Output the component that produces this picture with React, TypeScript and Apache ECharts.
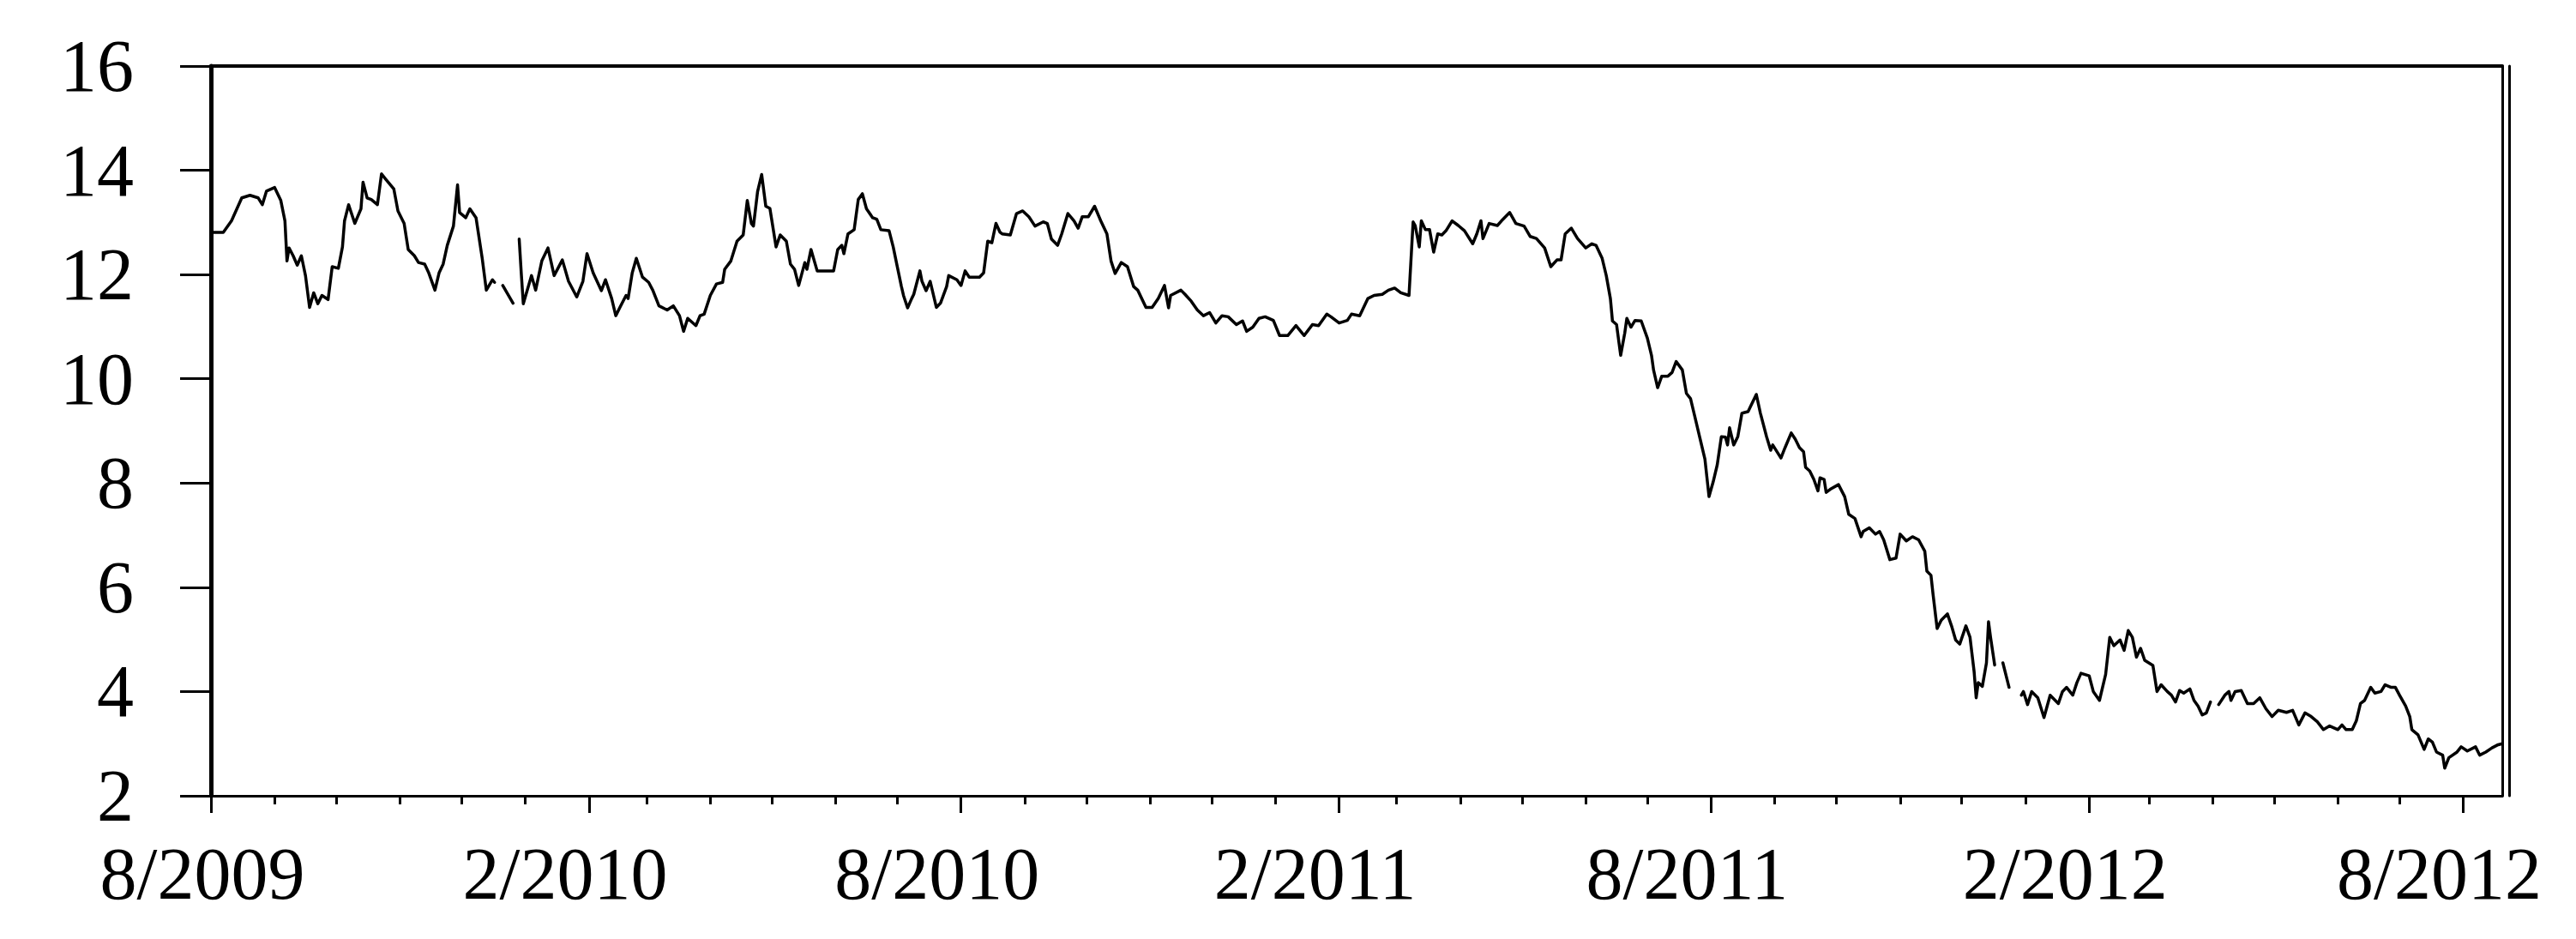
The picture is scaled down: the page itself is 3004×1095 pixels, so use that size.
import React, { useEffect, useRef } from "react";
import * as echarts from "echarts";

// ---- data: [date, value] ----
const data2009: [string, number | null][] = [
  ["2009-08-01", 12.81], ["2009-08-07", 12.81], ["2009-08-11", 13.03], ["2009-08-16", 13.47], ["2009-08-20", 13.52], ["2009-08-24", 13.47], ["2009-08-26", 13.34], ["2009-08-28", 13.6],
  ["2009-09-01", 13.67], ["2009-09-04", 13.42], ["2009-09-06", 13.03], ["2009-09-07", 12.26], ["2009-09-08", 12.51], ["2009-09-10", 12.36], ["2009-09-12", 12.18], ["2009-09-14", 12.36], ["2009-09-16", 11.98], ["2009-09-18", 11.37], ["2009-09-20", 11.65], ["2009-09-22", 11.44], ["2009-09-24", 11.6], ["2009-09-27", 11.52], ["2009-09-29", 12.15],
  ["2009-10-02", 12.12], ["2009-10-04", 12.53], ["2009-10-05", 13.03], ["2009-10-07", 13.34], ["2009-10-10", 12.98], ["2009-10-13", 13.26], ["2009-10-14", 13.77], ["2009-10-16", 13.47], ["2009-10-18", 13.44], ["2009-10-21", 13.34], ["2009-10-23", 13.93], ["2009-10-25", 13.83], ["2009-10-29", 13.64], ["2009-10-31", 13.22],
  ["2009-11-03", 12.98], ["2009-11-05", 12.48], ["2009-11-08", 12.36], ["2009-11-10", 12.23], ["2009-11-13", 12.2], ["2009-11-15", 12.03], ["2009-11-18", 11.7], ["2009-11-20", 12.03], ["2009-11-22", 12.2], ["2009-11-24", 12.56], ["2009-11-27", 12.93], ["2009-11-29", 13.72], ["2009-11-30", 13.19],
  ["2009-12-03", 13.09], ["2009-12-05", 13.26], ["2009-12-08", 13.09], ["2009-12-11", 12.31], ["2009-12-13", 11.7], ["2009-12-16", 11.9], ["2009-12-17", 11.85], ["2009-12-19", null], ["2009-12-21", 11.79], ["2009-12-26", 11.45], ["2009-12-28", null], ["2009-12-29", 12.68], ["2009-12-30", 12.03], ["2009-12-31", 11.44],
];

const data2010: [string, number | null][] = [
  ["2010-01-04", 11.98], ["2010-01-06", 11.7], ["2010-01-09", 12.26], ["2010-01-12", 12.51], ["2010-01-15", 11.98], ["2010-01-19", 12.28], ["2010-01-22", 11.87], ["2010-01-26", 11.57], ["2010-01-29", 11.87], ["2010-01-31", 12.4],
  ["2010-02-03", 12.03], ["2010-02-07", 11.69], ["2010-02-09", 11.9], ["2010-02-12", 11.54], ["2010-02-14", 11.21], ["2010-02-16", 11.37], ["2010-02-19", 11.6], ["2010-02-20", 11.54], ["2010-02-22", 12.03], ["2010-02-24", 12.31], ["2010-02-27", 11.95],
  ["2010-03-02", 11.85], ["2010-03-04", 11.7], ["2010-03-07", 11.4], ["2010-03-11", 11.32], ["2010-03-14", 11.4], ["2010-03-17", 11.21], ["2010-03-19", 10.91], ["2010-03-21", 11.16], ["2010-03-25", 11.02], ["2010-03-27", 11.21], ["2010-03-29", 11.24],
  ["2010-04-01", 11.6], ["2010-04-04", 11.82], ["2010-04-07", 11.85], ["2010-04-08", 12.1], ["2010-04-11", 12.26], ["2010-04-14", 12.64], ["2010-04-17", 12.76], ["2010-04-19", 13.42], ["2010-04-21", 12.98], ["2010-04-22", 12.93], ["2010-04-24", 13.59], ["2010-04-26", 13.92], ["2010-04-28", 13.31], ["2010-04-30", 13.27],
  ["2010-05-03", 12.53], ["2010-05-05", 12.76], ["2010-05-08", 12.64], ["2010-05-10", 12.2], ["2010-05-12", 12.1], ["2010-05-14", 11.79], ["2010-05-17", 12.23], ["2010-05-18", 12.1], ["2010-05-20", 12.48], ["2010-05-23", 12.07], ["2010-05-27", 12.07], ["2010-05-31", 12.07],
  ["2010-06-02", 12.48], ["2010-06-04", 12.56], ["2010-06-05", 12.4], ["2010-06-07", 12.78], ["2010-06-10", 12.86], ["2010-06-12", 13.44], ["2010-06-14", 13.55], ["2010-06-16", 13.26], ["2010-06-19", 13.09], ["2010-06-21", 13.06], ["2010-06-23", 12.86], ["2010-06-27", 12.84], ["2010-06-29", 12.53],
  ["2010-07-01", 12.15], ["2010-07-03", 11.77], ["2010-07-04", 11.6], ["2010-07-06", 11.36], ["2010-07-08", 11.54], ["2010-07-09", 11.62], ["2010-07-12", 12.07], ["2010-07-13", 11.87], ["2010-07-15", 11.69], ["2010-07-17", 11.87], ["2010-07-20", 11.37], ["2010-07-22", 11.45], ["2010-07-25", 11.77], ["2010-07-26", 11.98], ["2010-07-30", 11.9],
  ["2010-08-01", 11.79], ["2010-08-03", 12.07], ["2010-08-05", 11.95], ["2010-08-10", 11.95], ["2010-08-12", 12.03], ["2010-08-14", 12.64], ["2010-08-16", 12.61], ["2010-08-18", 12.98], ["2010-08-20", 12.81], ["2010-08-21", 12.78], ["2010-08-25", 12.76], ["2010-08-28", 13.17], ["2010-08-31", 13.22],
  ["2010-09-03", 13.11], ["2010-09-06", 12.93], ["2010-09-10", 13.01], ["2010-09-12", 12.98], ["2010-09-14", 12.68], ["2010-09-17", 12.56], ["2010-09-19", 12.78], ["2010-09-22", 13.17], ["2010-09-25", 13.03], ["2010-09-27", 12.89], ["2010-09-29", 13.11],
  ["2010-10-02", 13.11], ["2010-10-05", 13.31], ["2010-10-08", 13.03], ["2010-10-11", 12.78], ["2010-10-13", 12.26], ["2010-10-15", 12.02], ["2010-10-18", 12.23], ["2010-10-21", 12.15], ["2010-10-24", 11.77], ["2010-10-26", 11.7], ["2010-10-30", 11.37],
  ["2010-11-02", 11.37], ["2010-11-05", 11.54], ["2010-11-08", 11.79], ["2010-11-10", 11.36], ["2010-11-11", 11.6], ["2010-11-16", 11.7], ["2010-11-18", 11.62], ["2010-11-21", 11.49], ["2010-11-24", 11.32], ["2010-11-27", 11.21], ["2010-11-30", 11.27],
  ["2010-12-03", 11.07], ["2010-12-06", 11.21], ["2010-12-09", 11.19], ["2010-12-13", 11.04], ["2010-12-16", 11.11], ["2010-12-18", 10.91], ["2010-12-21", 10.99], ["2010-12-24", 11.16], ["2010-12-27", 11.19], ["2010-12-31", 11.12],
];

const data2011: [string, number | null][] = [
  ["2011-01-03", 10.83], ["2011-01-07", 10.83], ["2011-01-11", 11.02], ["2011-01-15", 10.83], ["2011-01-19", 11.04], ["2011-01-22", 11.02], ["2011-01-26", 11.24], ["2011-01-28", 11.19],
  ["2011-02-01", 11.07], ["2011-02-05", 11.12], ["2011-02-07", 11.24], ["2011-02-11", 11.21], ["2011-02-15", 11.54], ["2011-02-18", 11.6], ["2011-02-22", 11.62], ["2011-02-25", 11.7], ["2011-02-28", 11.74],
  ["2011-03-03", 11.65], ["2011-03-07", 11.6], ["2011-03-09", 13.01], ["2011-03-10", 12.94], ["2011-03-12", 12.53], ["2011-03-13", 13.03], ["2011-03-15", 12.86], ["2011-03-17", 12.86], ["2011-03-19", 12.43], ["2011-03-21", 12.78], ["2011-03-23", 12.76], ["2011-03-25", 12.84], ["2011-03-28", 13.03], ["2011-03-31", 12.94],
  ["2011-04-03", 12.84], ["2011-04-07", 12.59], ["2011-04-09", 12.78], ["2011-04-11", 13.03], ["2011-04-12", 12.69], ["2011-04-15", 12.98], ["2011-04-19", 12.94], ["2011-04-21", 13.03], ["2011-04-25", 13.19], ["2011-04-28", 12.98],
  ["2011-05-02", 12.93], ["2011-05-05", 12.73], ["2011-05-08", 12.69], ["2011-05-12", 12.51], ["2011-05-15", 12.15], ["2011-05-18", 12.28], ["2011-05-20", 12.28], ["2011-05-22", 12.78], ["2011-05-25", 12.89], ["2011-05-28", 12.69],
  ["2011-06-01", 12.51], ["2011-06-04", 12.59], ["2011-06-06", 12.56], ["2011-06-09", 12.31], ["2011-06-11", 11.98], ["2011-06-13", 11.54], ["2011-06-14", 11.11], ["2011-06-16", 11.04], ["2011-06-18", 10.45], ["2011-06-20", 10.88], ["2011-06-21", 11.16], ["2011-06-23", 10.99], ["2011-06-25", 11.12], ["2011-06-28", 11.11],
  ["2011-07-01", 10.78], ["2011-07-03", 10.45], ["2011-07-04", 10.17], ["2011-07-06", 9.83], ["2011-07-08", 10.05], ["2011-07-11", 10.05], ["2011-07-13", 10.12], ["2011-07-15", 10.33], ["2011-07-18", 10.17], ["2011-07-20", 9.72], ["2011-07-22", 9.62], ["2011-07-24", 9.29], ["2011-07-27", 8.79], ["2011-07-29", 8.46], ["2011-07-31", 7.74],
  ["2011-08-02", 8.02], ["2011-08-04", 8.35], ["2011-08-06", 8.89], ["2011-08-08", 8.88], ["2011-08-09", 8.73], ["2011-08-10", 9.06], ["2011-08-12", 8.73], ["2011-08-14", 8.89], ["2011-08-16", 9.34], ["2011-08-19", 9.37], ["2011-08-23", 9.7], ["2011-08-25", 9.34], ["2011-08-28", 8.89], ["2011-08-30", 8.63], ["2011-08-31", 8.73],
  ["2011-09-04", 8.48], ["2011-09-06", 8.68], ["2011-09-09", 8.96], ["2011-09-11", 8.84], ["2011-09-13", 8.68], ["2011-09-15", 8.6], ["2011-09-16", 8.3], ["2011-09-18", 8.23], ["2011-09-20", 8.07], ["2011-09-22", 7.85], ["2011-09-23", 8.1], ["2011-09-25", 8.07], ["2011-09-26", 7.82], ["2011-09-28", 7.88],
  ["2011-10-02", 7.97], ["2011-10-05", 7.74], ["2011-10-07", 7.4], ["2011-10-10", 7.32], ["2011-10-13", 6.97], ["2011-10-14", 7.07], ["2011-10-17", 7.14], ["2011-10-20", 7.02], ["2011-10-22", 7.07], ["2011-10-24", 6.91], ["2011-10-27", 6.53], ["2011-10-30", 6.56],
  ["2011-11-01", 7.02], ["2011-11-04", 6.89], ["2011-11-07", 6.97], ["2011-11-10", 6.91], ["2011-11-13", 6.69], ["2011-11-14", 6.31], ["2011-11-16", 6.23], ["2011-11-17", 5.87], ["2011-11-19", 5.21], ["2011-11-21", 5.37], ["2011-11-24", 5.49], ["2011-11-26", 5.26], ["2011-11-28", 4.99], ["2011-11-30", 4.91],
  ["2011-12-03", 5.26], ["2011-12-05", 5.04], ["2011-12-07", 4.38], ["2011-12-08", 3.88], ["2011-12-09", 4.17], ["2011-12-11", 4.1], ["2011-12-13", 4.55], ["2011-12-14", 5.34], ["2011-12-15", 5.04], ["2011-12-17", 4.51], ["2011-12-19", null], ["2011-12-21", 4.55], ["2011-12-24", 4.08], ["2011-12-27", null], ["2011-12-30", 3.93], ["2011-12-31", 4.0],
];

const data2012: [string, number | null][] = [
  ["2012-01-02", 3.75], ["2012-01-04", 4.0], ["2012-01-07", 3.88], ["2012-01-10", 3.5], ["2012-01-13", 3.93], ["2012-01-17", 3.77], ["2012-01-19", 4.0], ["2012-01-21", 4.08], ["2012-01-24", 3.93], ["2012-01-26", 4.17], ["2012-01-28", 4.35],
  ["2012-02-01", 4.3], ["2012-02-03", 4.0], ["2012-02-06", 3.83], ["2012-02-09", 4.33], ["2012-02-11", 5.04], ["2012-02-13", 4.88], ["2012-02-16", 4.99], ["2012-02-18", 4.79], ["2012-02-20", 5.17], ["2012-02-22", 5.04], ["2012-02-24", 4.66], ["2012-02-26", 4.83], ["2012-02-28", 4.6],
  ["2012-03-03", 4.5], ["2012-03-05", 4.0], ["2012-03-07", 4.13], ["2012-03-10", 4.0], ["2012-03-12", 3.93], ["2012-03-14", 3.8], ["2012-03-16", 4.02], ["2012-03-18", 3.97], ["2012-03-21", 4.05], ["2012-03-23", 3.83], ["2012-03-25", 3.72], ["2012-03-27", 3.55], ["2012-03-29", 3.59], ["2012-03-31", 3.8], ["2012-04-02", null],
  ["2012-04-04", 3.75], ["2012-04-07", 3.93], ["2012-04-09", 4.0], ["2012-04-10", 3.83], ["2012-04-12", 4.0], ["2012-04-15", 4.02], ["2012-04-18", 3.77], ["2012-04-21", 3.77], ["2012-04-24", 3.88], ["2012-04-27", 3.67], ["2012-04-30", 3.52],
  ["2012-05-03", 3.64], ["2012-05-07", 3.6], ["2012-05-10", 3.64], ["2012-05-13", 3.36], ["2012-05-16", 3.59], ["2012-05-19", 3.52], ["2012-05-22", 3.42], ["2012-05-25", 3.27], ["2012-05-28", 3.34],
  ["2012-06-01", 3.27], ["2012-06-03", 3.36], ["2012-06-05", 3.27], ["2012-06-08", 3.27], ["2012-06-10", 3.44], ["2012-06-12", 3.77], ["2012-06-14", 3.83], ["2012-06-17", 4.08], ["2012-06-19", 3.97], ["2012-06-22", 4.0], ["2012-06-24", 4.13], ["2012-06-27", 4.08], ["2012-06-29", 4.08],
  ["2012-07-01", 3.93], ["2012-07-04", 3.72], ["2012-07-06", 3.52], ["2012-07-07", 3.27], ["2012-07-10", 3.17], ["2012-07-13", 2.89], ["2012-07-15", 3.09], ["2012-07-17", 3.03], ["2012-07-19", 2.84], ["2012-07-22", 2.78], ["2012-07-23", 2.53], ["2012-07-25", 2.73], ["2012-07-29", 2.84], ["2012-07-31", 2.94],
  ["2012-08-03", 2.86], ["2012-08-07", 2.94], ["2012-08-09", 2.78], ["2012-08-12", 2.84], ["2012-08-15", 2.92], ["2012-08-18", 2.98], ["2012-08-20", 3.0],
];

// ---- axes ----
const xStart = "2009-08-01";
const xEnd = "2012-08-20";
const majorTickDates = ["2009-08-01", "2010-02-01", "2010-08-01", "2011-02-01", "2011-08-01", "2012-02-01", "2012-08-01"];
const yMin = 2;
const yMax = 16;
const yStep = 2;

const FONT = "'Liberation Serif', 'Times New Roman', serif";

function monthStarts(from: string, to: string): number[] {
  const out: number[] = [];
  const a = new Date(from);
  let y = a.getUTCFullYear();
  let m = a.getUTCMonth();
  const end = Date.parse(to);
  while (true) {
    const t = Date.UTC(y, m, 1);
    if (t > end) break;
    out.push(t);
    m++;
    if (m > 11) { m = 0; y++; }
  }
  return out;
}

export default function App() {
  const ref = useRef<HTMLDivElement>(null);

  useEffect(() => {
    if (!ref.current) return;
    const chart = echarts.init(ref.current, null, { renderer: "svg" });
    const T0 = Date.parse(xStart);
    const T1 = Date.parse(xEnd);
    const minor = monthStarts(xStart, xEnd);
    const major = majorTickDates.map((d) => Date.parse(d));
    const seriesData = [...data2009, ...data2010, ...data2011, ...data2012].map(
      ([d, v]) => [Date.parse(d), v === null ? "-" : v]
    );
    const labelFmt = (v: number) => {
      const d = new Date(v);
      const s = `${d.getUTCMonth() + 1}/${d.getUTCFullYear()}`;
      return v === major[0] ? `{f|${s}}` : `{o|${s}}`;
    };
    const bareAxis = (extra: any) => ({
      axisTick: { show: false },
      axisLabel: { show: false },
      splitLine: { show: false },
      ...extra,
    });

    chart.setOption({
      animation: false,
      backgroundColor: "#ffffff",
      grid: { left: 246, right: 86, top: 77, bottom: 167, containLabel: false, outerBoundsMode: "none" },
      xAxis: [
        {
          type: "value", min: T0, max: T1, position: "bottom",
          axisLine: { show: true, onZero: false, lineStyle: { color: "#000", width: 3 } },
          axisTick: { show: true, customValues: minor, length: 10, lineStyle: { color: "#000", width: 3 } },
          axisLabel: { show: false },
          splitLine: { show: false },
        },
        {
          type: "value", min: T0, max: T1, position: "bottom",
          axisLine: { show: false, onZero: false },
          axisTick: { show: true, customValues: major, length: 20, lineStyle: { color: "#000", width: 3 } },
          axisLabel: {
            show: true, customValues: major, margin: 48, formatter: labelFmt,
            color: "#000", fontFamily: FONT, fontSize: 86,
            rich: {
              f: { color: "#000", fontFamily: FONT, fontSize: 86, padding: [0, 20, 0, 0] },
              o: { color: "#000", fontFamily: FONT, fontSize: 86, padding: [0, 56, 0, 0] },
            },
          },
          splitLine: { show: false },
        },
        bareAxis({
          type: "value", min: T0, max: T1, position: "top",
          axisLine: { show: true, onZero: false, lineStyle: { color: "#000", width: 4 } },
        }),
      ],
      yAxis: [
        {
          type: "value", min: yMin, max: yMax, interval: yStep, position: "left",
          axisLine: { show: true, onZero: false, lineStyle: { color: "#000", width: 5 } },
          axisTick: { show: true, length: 36, lineStyle: { color: "#000", width: 3 } },
          axisLabel: { color: "#000", fontFamily: FONT, fontSize: 86, margin: 90 },
          splitLine: { show: false },
        },
        bareAxis({
          type: "value", min: yMin, max: yMax, position: "right",
          axisLine: { show: true, onZero: false, lineStyle: { color: "#000", width: 3 } },
        }),
        bareAxis({
          type: "value", min: yMin, max: yMax, position: "right", offset: 8,
          axisLine: { show: true, onZero: false, lineStyle: { color: "#000", width: 3 } },
        }),
      ],
      series: [
        {
          type: "line",
          xAxisIndex: 0,
          yAxisIndex: 0,
          data: seriesData,
          showSymbol: false,
          symbol: "none",
          connectNulls: false,
          silent: true,
          lineStyle: { color: "#000", width: 3.5, join: "round", cap: "round" },
        },
      ],
    });
    return () => chart.dispose();
  }, []);

  return (
    <div
      ref={ref}
      style={{ position: "absolute", left: 0, top: 0, width: 3004, height: 1095, background: "#fff" }}
    />
  );
}
